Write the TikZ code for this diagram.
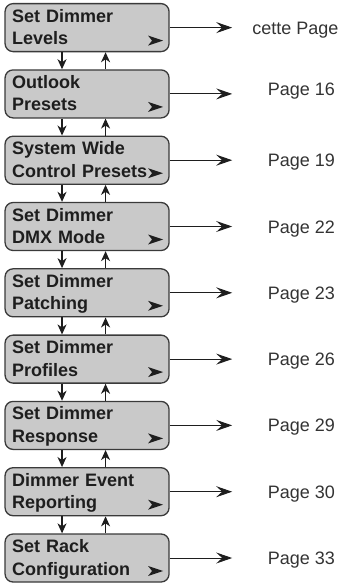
\documentclass[tikz,border=0pt]{standalone}
\usepackage{fontspec}
\setsansfont{Liberation Sans}
\usepackage{tikz}
\usetikzlibrary{calc}
\usetikzlibrary{arrows.meta}
\usetikzlibrary{positioning}
\definecolor{boxgray}{RGB}{201, 201, 201}
\definecolor{boxedge}{RGB}{58, 58, 58}
\definecolor{inkdark}{RGB}{30, 30, 30}
\definecolor{pagegray}{RGB}{51, 51, 51}

\tikzset{
    menubox/.style={draw=boxedge, fill=boxgray, line width=1.3pt, rounded corners=8pt,
        minimum width=164pt, minimum height=48pt, text width=150pt, inner xsep=7pt, inner ysep=0pt,
        align=left, text=inkdark, font=\sffamily\bfseries\fontsize{18pt}{22.5pt}\selectfont,
        execute at begin node={\rule{0pt}{18.25pt}}, execute at end node={\strut},
        path picture={\fill[inkdark, sharp corners] ([xshift=-21pt, yshift=16pt]path picture bounding box.south east)
            -- ++(15pt,-5pt) -- ++(-15pt,-5pt) -- ++(4pt,5pt) -- cycle;}},
    pagelabel/.style={text=pagegray, font=\sffamily\fontsize{18pt}{22.5pt}\selectfont,
        text height=13pt, text depth=0pt, inner sep=0pt},
    godown/.style={draw=inkdark, line width=1.3pt, -{Stealth[length=10pt, width=9pt, inset=3pt]}},
    topage/.style={draw=inkdark, line width=1pt, -{Stealth[length=16pt, width=11pt, inset=6pt]}},
    node distance=17pt
}

\begin{document}
\begin{tikzpicture}
            \useasboundingbox (0,0) rectangle (342pt,-584pt);
            \coordinate (dn)   at ( 2.18, 0.00);
            \coordinate (up)   at ( 3.71, 0.00);
            \coordinate (tips) at ( 8.16, 0.00);
            \coordinate (pcol) at (10.59, 0.00);

            \node[menubox] (b1) at (3.06,-0.97) {Set Dimmer\\Levels};
            \node[menubox, below=of b1] (b2) {Outlook\\Presets};
            \node[menubox, below=of b2] (b3) {System Wide\\Control Presets};
            \node[menubox, below=of b3] (b4) {Set Dimmer\\DMX Mode};
            \node[menubox, below=of b4] (b5) {Set Dimmer\\Patching};
            \node[menubox, below=of b5] (b6) {Set Dimmer\\Profiles};
            \node[menubox, below=of b6] (b7) {Set Dimmer\\Response};
            \node[menubox, below=of b7] (b8) {Dimmer Event\\Reporting};
            \node[menubox, below=of b8] (b9) {Set Rack\\Configuration};

            \node[pagelabel, xshift=-6pt]  (p1) at (b1 -| pcol) {cette Page};
            \node[pagelabel, yshift=4.5pt] (p2) at (b2 -| pcol) {Page 16};
            \node[pagelabel]               (p3) at (b3 -| pcol) {Page 19};
            \node[pagelabel]               (p4) at (b4 -| pcol) {Page 22};
            \node[pagelabel]               (p5) at (b5 -| pcol) {Page 23};
            \node[pagelabel]               (p6) at (b6 -| pcol) {Page 26};
            \node[pagelabel]               (p7) at (b7 -| pcol) {Page 29};
            \node[pagelabel]               (p8) at (b8 -| pcol) {Page 30};
            \node[pagelabel]               (p9) at (b9 -| pcol) {Page 33};

            % links to the pages
            \draw[topage] (b1) -- (b1 -| tips);
            \draw[topage] (b2) -- (b2 -| tips);
            \draw[topage] (b3) -- (b3 -| tips);
            \draw[topage] (b4) -- (b4 -| tips);
            \draw[topage] (b5) -- (b5 -| tips);
            \draw[topage] (b6) -- (b6 -| tips);
            \draw[topage] (b7) -- (b7 -| tips);
            \draw[topage] (b8) -- (b8 -| tips);
            \draw[topage] (b9) -- (b9 -| tips);

            % down and up between the menus
            \draw[godown] (b1.south -| dn) -- (b2.north -| dn);  \draw[godown] (b2.north -| up) -- (b1.south -| up);
            \draw[godown] (b2.south -| dn) -- (b3.north -| dn);  \draw[godown] (b3.north -| up) -- (b2.south -| up);
            \draw[godown] (b3.south -| dn) -- (b4.north -| dn);  \draw[godown] (b4.north -| up) -- (b3.south -| up);
            \draw[godown] (b4.south -| dn) -- (b5.north -| dn);  \draw[godown] (b5.north -| up) -- (b4.south -| up);
            \draw[godown] (b5.south -| dn) -- (b6.north -| dn);  \draw[godown] (b6.north -| up) -- (b5.south -| up);
            \draw[godown] (b6.south -| dn) -- (b7.north -| dn);  \draw[godown] (b7.north -| up) -- (b6.south -| up);
            \draw[godown] (b7.south -| dn) -- (b8.north -| dn);  \draw[godown] (b8.north -| up) -- (b7.south -| up);
            \draw[godown] (b8.south -| dn) -- (b9.north -| dn);  \draw[godown] (b9.north -| up) -- (b8.south -| up);
        \end{tikzpicture}
\end{document}
